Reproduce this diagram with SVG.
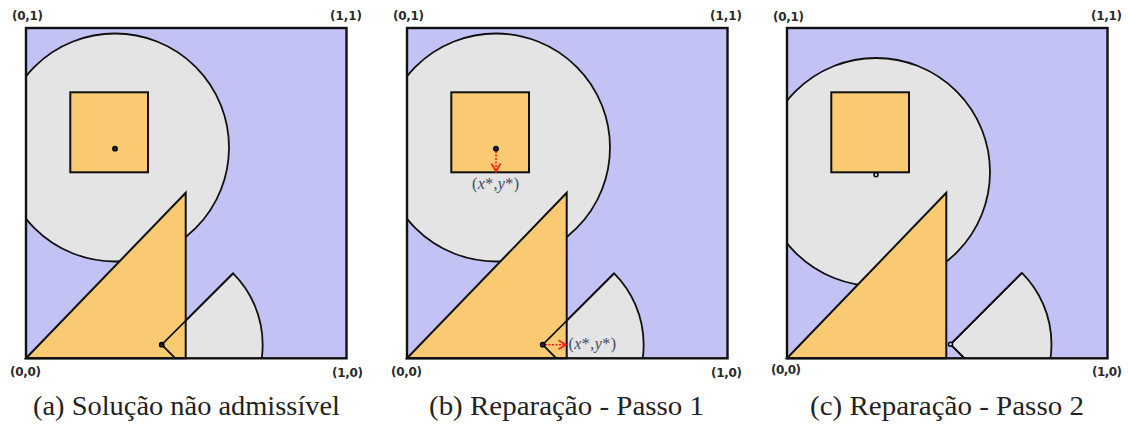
<svg xmlns="http://www.w3.org/2000/svg" width="1128" height="425" viewBox="0 0 1128 425">
<style>
.bg{fill:#c3c2f5;stroke:none}
.frame{fill:none;stroke:#111;stroke-width:2.4}
.disk{fill:#e4e4e4;stroke:#111;stroke-width:1.8}
.item{fill:#f9ca72;stroke:#111;stroke-width:2}
.edge{fill:none;stroke:#111;stroke-width:1.8}
.dot{fill:#223;stroke:#000;stroke-width:1.4}
.hdot{fill:#e4e4e4;stroke:#000;stroke-width:1.5}
.corner{font-family:"DejaVu Sans",sans-serif;font-size:12px;font-weight:600;fill:#2a2a2a}
.cap{font-family:"Liberation Serif",serif;font-size:28px;fill:#222}
.lbl{font-family:"Liberation Serif",serif;font-size:16px;fill:#3d4b60}
.red{fill:none;stroke:#ff1a1a;stroke-width:1.6}
.reddot{fill:none;stroke:#ff1a1a;stroke-width:1.6;stroke-dasharray:2 1.5}
</style>
<defs>
<clipPath id="box" clipPathUnits="userSpaceOnUse"><rect x="26" y="28" width="320.5" height="330.3"/></clipPath>
</defs>

<g id="panel-a">
  <rect class="bg" x="26" y="28" width="320.5" height="330.3"/>
  <g clip-path="url(#box)">
    <circle id="a-circle" class="disk" cx="115" cy="147.5" r="114"/>
    <path id="a-sector" class="disk" d="M161.7,344.7 L233.1,273.3 A101,101 0 0 1 233.1,416.1 Z"/>
  </g>
  <rect id="a-square" class="item" x="70.3" y="92.3" width="77.7" height="80"/>
  <path id="a-triangle" class="item" d="M26,358.3 L185.7,192.7 L185.7,358.3 Z"/>
  <g clip-path="url(#box)"><path class="edge" d="M233.1,273.3 L161.7,344.7 L178,361"/></g>
  <rect class="frame" x="26" y="28" width="320.5" height="330.3"/>
  <circle class="dot" cx="115" cy="148.7" r="2.2"/>
  <circle class="dot" cx="161.7" cy="344.7" r="2.2"/>
  <text class="corner" x="12" y="20" textLength="31">(0,1)</text>
  <text class="corner" x="330" y="20" textLength="32">(1,1)</text>
  <text class="corner" x="10" y="376" textLength="31">(0,0)</text>
  <text class="corner" x="332" y="377" textLength="31">(1,0)</text>
  <text class="cap" x="33" y="415" textLength="307" lengthAdjust="spacingAndGlyphs">(a) Solução não admissível</text>
</g>

<g id="panel-b" transform="translate(381,0)">
  <rect class="bg" x="26" y="28" width="320.5" height="330.3"/>
  <g clip-path="url(#box)">
    <circle id="b-circle" class="disk" cx="115" cy="147.5" r="114"/>
    <path id="b-sector" class="disk" d="M161.7,344.7 L233.1,273.3 A101,101 0 0 1 233.1,416.1 Z"/>
  </g>
  <rect id="b-square" class="item" x="70.3" y="92.3" width="77.7" height="80"/>
  <path id="b-triangle" class="item" d="M26,358.3 L185.7,192.7 L185.7,358.3 Z"/>
  <g clip-path="url(#box)"><path class="edge" d="M233.1,273.3 L161.7,344.7 L178,361"/></g>
  <rect class="frame" x="26" y="28" width="320.5" height="330.3"/>
  <text class="corner" x="12" y="20" textLength="31">(0,1)</text>
  <text class="corner" x="329" y="20" textLength="32">(1,1)</text>
  <text class="corner" x="10" y="376" textLength="31">(0,0)</text>
  <text class="corner" x="330" y="377" textLength="31">(1,0)</text>
  <text class="cap" x="48" y="415" textLength="275" lengthAdjust="spacingAndGlyphs">(b) Reparação - Passo 1</text>
</g>

<g id="panel-c" transform="translate(761,0)">
  <rect class="bg" x="26" y="28" width="320.5" height="330.3"/>
  <g clip-path="url(#box)">
    <circle id="c-circle" class="disk" cx="115" cy="172" r="114"/>
    <path id="c-sector" class="disk" d="M189.5,344.3 L260.9,272.9 A101,101 0 0 1 260.9,415.7 Z"/>
  </g>
  <rect id="c-square" class="item" x="70.3" y="92.3" width="77.7" height="80"/>
  <path id="c-triangle" class="item" d="M26,358.3 L185.3,192.7 L185.3,358.3 Z"/>
  <g clip-path="url(#box)"><path class="edge" d="M260.9,272.9 L189.5,344.3 L206,361"/></g>
  <rect class="frame" x="26" y="28" width="320.5" height="330.3"/>
  <circle class="hdot" cx="115" cy="174.8" r="2"/>
  <circle class="hdot" cx="189.5" cy="344.3" r="2"/>
  <text class="corner" x="12" y="21" textLength="31">(0,1)</text>
  <text class="corner" x="330" y="20" textLength="31">(1,1)</text>
  <text class="corner" x="10" y="374" textLength="30">(0,0)</text>
  <text class="corner" x="331" y="376" textLength="30">(1,0)</text>
  <text class="cap" x="49" y="415" textLength="274" lengthAdjust="spacingAndGlyphs">(c) Reparação - Passo 2</text>
</g>

<g id="connectors">
  <path class="reddot" d="M496,151 L496,170"/>
  <path class="red" d="M491.5,163.5 L496,171.5 L500.5,163.5"/>
  <path class="reddot" d="M545,344.7 L565,344.7"/>
  <path class="red" d="M558.5,340.2 L566,344.7 L558.5,349.2"/>
</g>
<circle class="dot" cx="496" cy="148.7" r="2.2"/>
<circle class="dot" cx="542.7" cy="344.7" r="2.2"/>

<g id="labels">
  <text class="lbl" x="472" y="189" textLength="47">(<tspan font-style="italic">x</tspan>*,<tspan font-style="italic">y</tspan>*)</text>
  <text class="lbl" x="568.5" y="349" textLength="47.5">(<tspan font-style="italic">x</tspan>*,<tspan font-style="italic">y</tspan>*)</text>
</g>
</svg>
